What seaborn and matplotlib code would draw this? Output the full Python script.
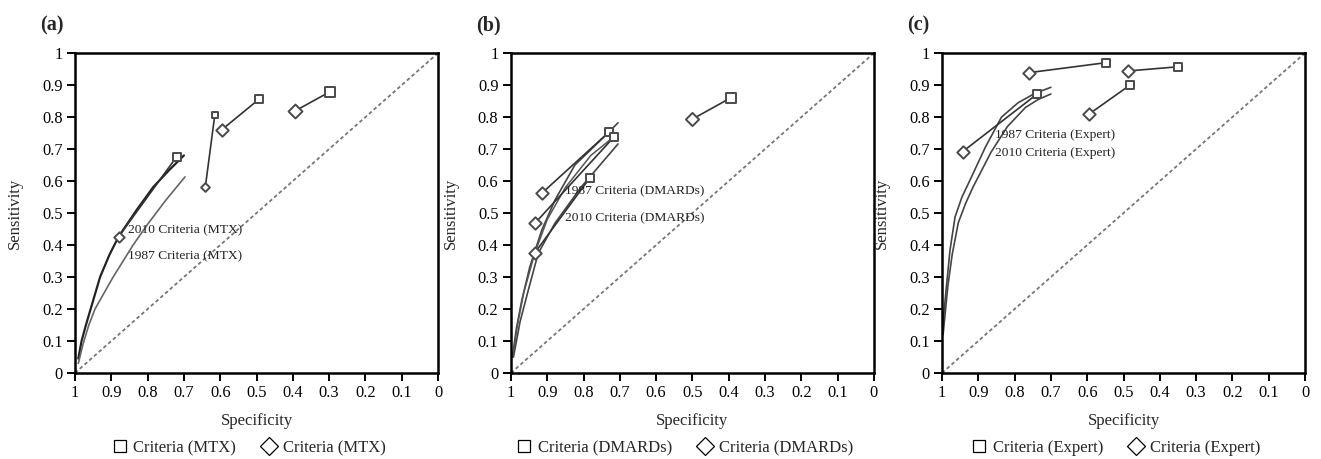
import matplotlib.pyplot as plt
import matplotlib
import numpy as np
import pandas as pd
import seaborn as sns
from matplotlib.lines import Line2D

# (a) MTX
mtx_2010_spec = [0.991, 0.982, 0.97, 0.957, 0.931, 0.905, 0.88, 0.83, 0.784, 0.74, 0.70]
mtx_2010_sens = [0.045, 0.1, 0.15, 0.2, 0.3, 0.37, 0.426, 0.51, 0.582, 0.635, 0.68]
mtx_1987_spec = [0.991, 0.978, 0.962, 0.945, 0.92, 0.895, 0.84, 0.80, 0.75, 0.697]
mtx_1987_sens = [0.03, 0.09, 0.15, 0.2, 0.25, 0.3, 0.4, 0.465, 0.54, 0.613]
mtx_diamond_spec = [0.88, 0.641, 0.595, 0.394]
mtx_diamond_sens = [0.426, 0.582, 0.761, 0.819]
mtx_square_spec = [0.72, 0.615, 0.494, 0.298]
mtx_square_sens = [0.676, 0.806, 0.855, 0.879]

# (b) DMARDs
dmard_curve1_spec = [0.996, 0.985, 0.97, 0.948, 0.915, 0.879, 0.824, 0.76, 0.705]
dmard_curve1_sens = [0.05, 0.14, 0.228, 0.332, 0.447, 0.54, 0.65, 0.72, 0.782]
dmard_curve2_spec = [0.993, 0.975, 0.952, 0.925, 0.879, 0.806, 0.705]
dmard_curve2_sens = [0.05, 0.16, 0.26, 0.374, 0.468, 0.582, 0.716]
dmard_curve3_spec = [0.995, 0.982, 0.965, 0.934, 0.90, 0.85, 0.78, 0.72]
dmard_curve3_sens = [0.05, 0.15, 0.25, 0.376, 0.48, 0.58, 0.68, 0.735]
dmard_diamond_spec = [0.914, 0.934, 0.934, 0.501]
dmard_diamond_sens = [0.563, 0.468, 0.376, 0.793]
dmard_square_spec = [0.729, 0.716, 0.782, 0.393]
dmard_square_sens = [0.754, 0.738, 0.611, 0.861]

# (c) Expert
exp_curve1_spec = [1.0, 0.987, 0.978, 0.964, 0.945, 0.927, 0.88, 0.836, 0.79, 0.744, 0.70]
exp_curve1_sens = [0.125, 0.28, 0.384, 0.488, 0.55, 0.593, 0.707, 0.80, 0.845, 0.874, 0.893]
exp_curve2_spec = [0.997, 0.984, 0.972, 0.955, 0.935, 0.915, 0.865, 0.82, 0.77, 0.735, 0.70]
exp_curve2_sens = [0.12, 0.27, 0.37, 0.47, 0.53, 0.58, 0.69, 0.77, 0.83, 0.855, 0.872]
exp_diamond_spec = [0.759, 0.488, 0.594, 0.943]
exp_diamond_sens = [0.939, 0.944, 0.81, 0.692]
exp_square_spec = [0.548, 0.351, 0.482, 0.739]
exp_square_sens = [0.97, 0.957, 0.90, 0.871]

chance_spec = [1, 0]
chance_sens = [0, 1]
tick_values = [1, 0.9, 0.8, 0.7, 0.6, 0.5, 0.4, 0.3, 0.2, 0.1, 0]
tick_labels = ["1", "0.9", "0.8", "0.7", "0.6", "0.5", "0.4", "0.3", "0.2", "0.1", "0"]
sens_ticks = [0, 0.1, 0.2, 0.3, 0.4, 0.5, 0.6, 0.7, 0.8, 0.9, 1]
sens_labels = ["0", "0.1", "0.2", "0.3", "0.4", "0.5", "0.6", "0.7", "0.8", "0.9", "1"]

panels = [
  {"tag": "(a)", "group": "MTX",
   "curves": [(mtx_2010_spec, mtx_2010_sens, "#222222", 1.6), (mtx_1987_spec, mtx_1987_sens, "#666666", 1.2)],
   "diamonds": (mtx_diamond_spec, mtx_diamond_sens), "squares": (mtx_square_spec, mtx_square_sens),
   "sizes": [28, 20, 40, 50],
   "texts": [(0.853, 0.445, "2010 Criteria (MTX)"), (0.853, 0.366, "1987 Criteria (MTX)")]},
  {"tag": "(b)", "group": "DMARDs",
   "curves": [(dmard_curve1_spec, dmard_curve1_sens, "#444444", 1.2), (dmard_curve2_spec, dmard_curve2_sens, "#444444", 1.2),
              (dmard_curve3_spec, dmard_curve3_sens, "#555555", 1.1)],
   "diamonds": (dmard_diamond_spec, dmard_diamond_sens), "squares": (dmard_square_spec, dmard_square_sens),
   "sizes": [40, 40, 40, 45],
   "texts": [(0.851, 0.567, "1987 Criteria (DMARDs)"), (0.851, 0.484, "2010 Criteria (DMARDs)")]},
  {"tag": "(c)", "group": "Expert",
   "curves": [(exp_curve1_spec, exp_curve1_sens, "#444444", 1.2), (exp_curve2_spec, exp_curve2_sens, "#444444", 1.2)],
   "diamonds": (exp_diamond_spec, exp_diamond_sens), "squares": (exp_square_spec, exp_square_sens),
   "sizes": [40, 40, 40, 40],
   "texts": [(0.854, 0.744, "1987 Criteria (Expert)"), (0.854, 0.688, "2010 Criteria (Expert)")]},
]

sns.set_style("white")
plt.rcParams['font.family'] = ['Liberation Serif', 'DejaVu Serif']

fig = plt.figure(figsize=(13.21, 4.59), dpi=100)
lefts = [0.0568, 0.3868, 0.7131]

for left, p in zip(lefts, panels):
  ax = fig.add_axes([left, 0.1874, 0.2748, 0.697])

  sns.lineplot(x=chance_spec, y=chance_sens, ax=ax, color="#777777", lw=1.3,
               linestyle=(0, (2, 1.5)), sort=False, estimator=None)
  for spec, sens, col, lw in p["curves"]:
    sns.lineplot(x=spec, y=sens, ax=ax, color=col, lw=lw, sort=False, estimator=None)

  dx, dy = p["diamonds"]
  sx, sy = p["squares"]
  pairs = pd.DataFrame({
    "spec": dx + sx, "sens": dy + sy,
    "pair": list(range(len(dx))) * 2,
  })
  sns.lineplot(data=pairs, x="spec", y="sens", units="pair", estimator=None, sort=False,
               ax=ax, color="#333333", lw=1.2)
  for i in range(len(dx)):
    ax.scatter(dx[i], dy[i], marker="D", s=p["sizes"][i], facecolor="white",
               edgecolor="#4a4a4a", linewidth=1.4, zorder=5)
    ax.scatter(sx[i], sy[i], marker="s", s=p["sizes"][i], facecolor="white",
               edgecolor="#4a4a4a", linewidth=1.4, zorder=5)

  for tx, ty, t in p["texts"]:
    ax.text(tx, ty, t, fontsize=9.7, va="center", ha="left", color="#222222")

  ax.set_xlim(1, 0)
  ax.set_ylim(0, 1)
  ax.set_xticks(tick_values)
  ax.set_xticklabels(tick_labels)
  ax.set_yticks(sens_ticks)
  ax.set_yticklabels(sens_labels)
  ax.tick_params(axis="both", direction="out", length=6, width=1.4, labelsize=11.8,
                 colors="black", pad=3, bottom=True, left=True)
  for s in ax.spines.values():
    s.set_linewidth(1.8)
    s.set_color("black")
  ax.set_xlabel("Specificity", fontsize=12, labelpad=8)
  ax.set_ylabel("Sensitivity", fontsize=12, labelpad=14)
  ax.text(-0.097, 1.087, p["tag"], transform=ax.transAxes, fontsize=14.5,
          fontweight="bold", va="center", ha="left")

  handles = [
    Line2D([], [], marker="s", linestyle="none", markersize=9, markerfacecolor="white",
           markeredgecolor="black", markeredgewidth=0.9, label="Criteria (" + p["group"] + ")"),
    Line2D([], [], marker="D", linestyle="none", markersize=9, markerfacecolor="white",
           markeredgecolor="black", markeredgewidth=0.9, label="Criteria (" + p["group"] + ")"),
  ]
  ax.legend(handles=handles, loc="center", bbox_to_anchor=(0.48, -0.235), ncol=2,
            frameon=False, fontsize=12, handlelength=0.8, handletextpad=0.4,
            columnspacing=1.6)

plt.savefig("out.png", dpi=100)
